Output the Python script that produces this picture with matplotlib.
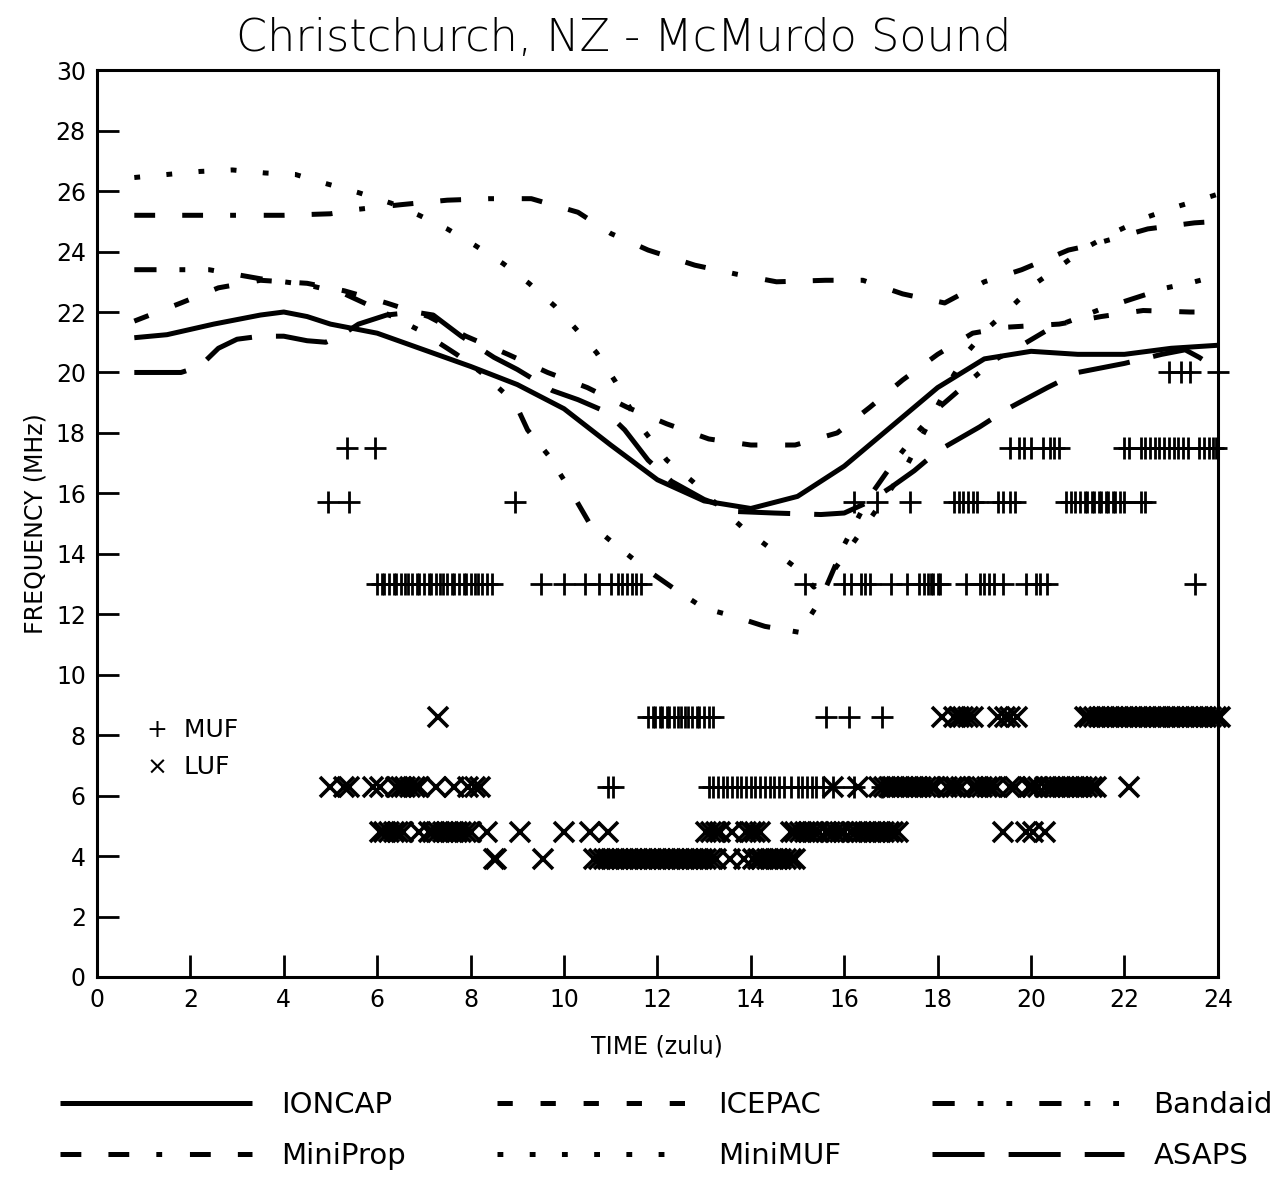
import matplotlib
matplotlib.use("Agg")
import matplotlib.pyplot as plt

plt.rcParams['font.family'] = ['DejaVu Sans']
plt.rcParams['lines.scale_dashes'] = False

# ---- model curves (time in hours zulu, frequency in MHz) ----
ioncap_h = [0.8, 1.5, 2.5, 3.5, 4.0, 4.5, 5.0, 6.0, 7.0, 8.0, 9.0, 10.0, 11.0, 12.0, 13.0,
            14.0, 15.0, 16.0, 17.0, 18.0, 19.0, 20.0, 21.0, 22.0, 23.0, 24.0]
ioncap = [21.15, 21.25, 21.6, 21.9, 22.0, 21.85, 21.6, 21.3, 20.75, 20.2, 19.6, 18.8, 17.6, 16.45, 15.75,
          15.5, 15.9, 16.9, 18.2, 19.5, 20.45, 20.7, 20.6, 20.6, 20.8, 20.9]

icepac_h = [0.8, 1.8, 2.6, 3.5, 4.5, 5.3, 6.2, 7.1, 7.9, 8.8, 9.65, 10.5, 11.35, 12.2, 13.1, 14.0,
            14.95, 15.85, 16.55, 17.25, 18.0, 18.75, 19.5, 20.6, 21.5, 22.4, 23.4, 24.0]
icepac = [21.7, 22.3, 22.8, 23.05, 22.95, 22.7, 22.3, 21.85, 21.2, 20.6, 20.0, 19.5, 18.85, 18.3, 17.8, 17.6,
          17.6, 18.0, 18.85, 19.75, 20.6, 21.3, 21.5, 21.6, 21.85, 22.05, 22.0, 22.0]

bandaid_h = [0.8, 2.4, 3.5, 4.5, 5.3, 6.0, 6.9, 7.7, 8.27, 8.95, 9.22, 9.66, 10.1, 10.55, 11.1, 11.75,
             12.4, 13.0, 13.6, 14.3, 15.05, 15.5, 16.0, 16.5, 17.0, 17.5, 18.0, 18.6, 19.2, 19.8, 20.4,
             21.0, 21.5, 22.1, 22.9, 23.5, 24.0]
bandaid = [23.4, 23.4, 23.1, 22.9, 22.6, 22.1, 21.4, 20.6, 19.95, 19.0, 18.1, 17.27, 16.2, 15.0, 14.3, 13.5,
           12.8, 12.2, 11.95, 11.6, 11.4, 12.5, 14.3, 15.8, 16.9, 17.9, 18.8, 19.6, 20.4, 20.9, 21.45,
           21.8, 22.1, 22.4, 22.8, 23.0, 23.2]

miniprop_h = [0.8, 2.0, 3.0, 4.0, 5.0, 5.6, 6.5, 7.5, 8.4, 9.3, 10.3, 11.0, 11.8, 12.8, 13.7, 14.55,
              15.6, 16.4, 17.25, 18.15, 19.0, 19.8, 20.8, 21.25, 22.5, 23.5, 24.0]
miniprop = [25.2, 25.2, 25.2, 25.2, 25.25, 25.4, 25.55, 25.7, 25.75, 25.75, 25.3, 24.6, 24.05, 23.55, 23.25, 23.0,
            23.05, 23.05, 22.6, 22.3, 23.0, 23.4, 24.05, 24.2, 24.75, 24.95, 25.0]

minimuf_h = [0.8, 1.5, 2.2, 2.9, 3.6, 4.25, 4.9, 5.6, 6.3, 6.9, 7.5, 8.1, 8.7, 9.25, 9.8, 10.25, 10.7,
             11.1, 11.6, 12.2, 12.75, 13.3, 13.8, 14.4, 15.0, 15.35, 15.8, 16.3, 16.8, 17.3, 17.9, 18.3,
             18.65, 19.1, 19.6, 20.1, 20.7, 21.2, 21.8, 22.5, 23.15, 23.8, 24.0]
minimuf = [26.45, 26.55, 26.65, 26.7, 26.6, 26.55, 26.25, 25.95, 25.6, 25.2, 24.75, 24.2, 23.6, 22.95, 22.2, 21.45, 20.65,
           19.7, 18.3, 17.1, 16.4, 15.6, 14.9, 14.2, 13.5, 12.9, 13.5, 14.6, 15.7, 16.8, 18.6, 19.8,
           20.7, 21.5, 22.2, 22.95, 23.6, 24.15, 24.65, 25.15, 25.5, 25.8, 25.9]

asaps_h = [0.8, 1.8, 2.2, 2.6, 3.0, 3.5, 4.0, 4.5, 4.9, 5.2, 5.6, 6.2, 6.8, 7.2, 7.8, 8.5, 9.0, 9.75,
           10.3, 10.9, 11.3, 11.8, 12.3, 13.0, 13.7, 14.5, 15.5, 16.0, 16.5, 17.0, 17.5, 18.0, 18.9,
           19.5, 20.35, 21.0, 22.0, 22.8, 23.3, 23.6, 23.8]
asaps = [20.0, 20.0, 20.2, 20.8, 21.1, 21.2, 21.2, 21.05, 21.0, 21.2, 21.6, 21.9, 22.0, 21.9, 21.2, 20.5, 20.1, 19.4,
         19.1, 18.7, 18.1, 17.1, 16.4, 15.8, 15.4, 15.35, 15.3, 15.35, 15.7, 16.2, 16.75, 17.4, 18.2,
         18.8, 19.5, 20.0, 20.3, 20.6, 20.75, 20.5, 20.3]

# ---- observed MUF (+) and LUF (x) times at each sounding frequency ----
muf_20_0 = [22.95, 23.2, 23.4, 24.0]
muf_17_5 = [5.35, 5.95, 19.55, 19.75, 19.85, 20.0, 20.25, 20.4, 20.5, 20.6,
            22.0, 22.1, 22.35, 22.45, 22.55, 22.65, 22.75, 22.85, 22.95, 23.05, 23.15, 23.25,
            23.35, 23.6, 23.7, 23.8, 23.9, 23.95]
muf_15_7 = [4.95, 5.4, 8.95, 16.2, 16.7, 17.4, 18.35, 18.45, 18.55, 18.65, 18.75, 18.85,
            19.3, 19.4, 19.55, 19.65, 20.75, 20.85, 20.95, 21.05, 21.15, 21.2, 21.3, 21.35,
            21.45, 21.5, 21.6, 21.65, 21.75, 21.8, 21.9, 22.0, 22.35, 22.45]
muf_13_0 = [6.0, 6.1, 6.15, 6.25, 6.35, 6.4, 6.5, 6.6, 6.65, 6.75, 6.85, 6.9, 7.0, 7.1, 7.15,
            7.25, 7.35, 7.4, 7.5, 7.6, 7.65, 7.75, 7.85, 7.9, 8.0, 8.1, 8.15, 8.25, 8.35, 8.45,
            9.5, 10.0, 10.45, 10.75, 11.0, 11.15, 11.25, 11.35, 11.45, 11.55, 11.65,
            15.15, 16.0, 16.15, 16.35, 16.45, 16.55, 17.0, 17.35, 17.6, 17.7, 17.8, 17.85,
            17.9, 18.0, 18.05, 18.6, 18.9, 19.0, 19.1, 19.2, 19.4, 19.9, 20.1, 20.2, 20.35, 23.5]
muf_8_6 = [11.8, 11.9, 11.95, 12.05, 12.1, 12.2, 12.25, 12.35, 12.45, 12.5, 12.6, 12.65,
           12.75, 12.85, 12.9, 13.0, 13.1, 13.2, 15.6, 16.1, 16.8]
muf_6_3 = [10.95, 11.05, 13.1, 13.2, 13.3, 13.4, 13.5, 13.6, 13.7, 13.8, 13.9, 14.0, 14.1,
           14.2, 14.3, 14.4, 14.5, 14.6, 14.7, 14.85, 15.0, 15.1, 15.2, 15.3, 15.4, 15.55,
           15.75, 16.2, 16.8]

luf_8_6 = [7.3, 18.1, 18.35, 18.45, 18.55, 18.65, 18.75, 19.3, 19.45, 19.55, 19.7,
           21.15, 21.25, 21.35, 21.45, 21.55, 21.65, 21.75, 21.85, 21.95, 22.05, 22.15, 22.25,
           22.35, 22.45, 22.55, 22.65, 22.75, 22.85, 22.95, 23.05, 23.15, 23.25, 23.35, 23.45,
           23.55, 23.65, 23.75, 23.85, 23.95, 24.05]
luf_6_3 = [5.0, 5.3, 5.4, 5.9, 6.05, 6.4, 6.5, 6.6, 6.7, 6.8, 6.9, 7.25, 7.65, 7.95, 8.1, 8.2,
           15.75, 16.3, 16.75, 16.85, 16.95, 17.05, 17.15, 17.25, 17.35, 17.45, 17.55, 17.65,
           17.75, 17.85, 17.95, 18.2, 18.3, 18.4, 18.5, 18.75, 18.85, 18.95, 19.05, 19.15,
           19.25, 19.55, 19.65, 19.95, 20.05, 20.15, 20.3, 20.4, 20.5, 20.6, 20.7, 20.8,
           20.9, 21.0, 21.1, 21.2, 21.3, 21.4, 22.1]
luf_4_8 = [6.05, 6.15, 6.25, 6.35, 6.45, 6.55, 6.9, 7.1, 7.2, 7.3, 7.4, 7.5, 7.6, 7.7, 7.8,
           7.9, 8.0, 8.35, 9.05, 10.0, 10.55, 10.95,
           13.05, 13.15, 13.25, 13.35, 13.6, 13.9, 14.0, 14.1, 14.2,
           14.85, 14.95, 15.05, 15.15, 15.25, 15.35, 15.45, 15.6, 15.7, 15.8, 15.9, 16.0,
           16.15, 16.25, 16.35, 16.45, 16.55, 16.65, 16.75, 16.85, 16.95, 17.05, 17.15,
           19.4, 19.9, 20.05, 20.3]
luf_3_9 = [8.5, 8.55, 9.55, 10.65, 10.75, 10.85, 10.95, 11.05, 11.15, 11.25, 11.35, 11.45,
           11.55, 11.65, 11.75, 11.85, 11.95, 12.05, 12.15, 12.25, 12.35, 12.45, 12.55, 12.65,
           12.75, 12.85, 12.95, 13.05, 13.15, 13.25, 13.55, 13.85, 14.05, 14.15, 14.25, 14.35,
           14.45, 14.55, 14.65, 14.75, 14.85, 14.95]

muf_rows = [(20.0, muf_20_0), (17.5, muf_17_5), (15.7, muf_15_7), (13.0, muf_13_0),
            (8.6, muf_8_6), (6.3, muf_6_3)]
luf_rows = [(8.6, luf_8_6), (6.3, luf_6_3), (4.8, luf_4_8), (3.9, luf_3_9)]

# ---- line styles (on/off in points) ----
styles = {
    "IONCAP": "-",
    "ICEPAC": (0, (11, 20)),
    "Bandaid": (0, (16, 16.5, 4.2, 16.5, 4.2, 19.5)),
    "MiniProp": (0, (15, 19.5, 15, 19.5, 4.2, 20)),
    "MiniMUF": (0, (4.2, 19)),
    "ASAPS": (0, (37.5, 17.3)),
}
curves = {
    "IONCAP": (ioncap_h, ioncap),
    "ICEPAC": (icepac_h, icepac),
    "Bandaid": (bandaid_h, bandaid),
    "MiniProp": (miniprop_h, miniprop),
    "MiniMUF": (minimuf_h, minimuf),
    "ASAPS": (asaps_h, asaps),
}

fig = plt.figure(figsize=(12.84, 11.9), dpi=100)
ax = fig.add_axes([0.0755, 0.179, 0.873, 0.762])

handles = {}
for name, (hx, fy) in curves.items():
    ln, = ax.plot(hx, fy, color="black", lw=3.6, linestyle=styles[name],
                  solid_capstyle="butt", dash_capstyle="butt", label=name)
    handles[name] = ln

for f, times in muf_rows:
    ax.plot(times, [f] * len(times), linestyle="none", marker="+", ms=16, mew=2.0,
            color="black", clip_on=False)
for f, times in luf_rows:
    ax.plot(times, [f] * len(times), linestyle="none", marker="x", ms=14, mew=2.6,
            color="black", clip_on=False)

ax.text(0.045, 0.272, "+  MUF", transform=ax.transAxes, fontsize=18, va="center")
ax.text(0.045, 0.232, "\u00d7  LUF", transform=ax.transAxes, fontsize=18, va="center")

ax.set_xlim(0, 24)
ax.set_ylim(0, 30)
ax.set_xticks(range(0, 25, 2))
ax.set_yticks(range(0, 31, 2))
ax.tick_params(direction="in", length=16, width=2, labelsize=17, pad=8,
               top=False, right=False)
for sp in ax.spines.values():
    sp.set_linewidth(2.2)

ax.set_xlabel("TIME (zulu)", fontsize=17, labelpad=16)
ax.set_ylabel("FREQUENCY (MHz)", fontsize=17, labelpad=6)

fig.text(0.486, 0.968, "Christchurch, NZ - McMurdo Sound", fontsize=32,
         fontweight="light", ha="center", va="center")

order = ["IONCAP", "MiniProp", "ICEPAC", "MiniMUF", "Bandaid", "ASAPS"]
fig.legend([handles[n] for n in order], order, loc="center",
           bbox_to_anchor=(0.519, 0.05), ncol=3, frameon=False, fontsize=21,
           handlelength=6.6, handletextpad=1.0, columnspacing=3.1, labelspacing=0.8)

fig.savefig("out.png", dpi=100)
